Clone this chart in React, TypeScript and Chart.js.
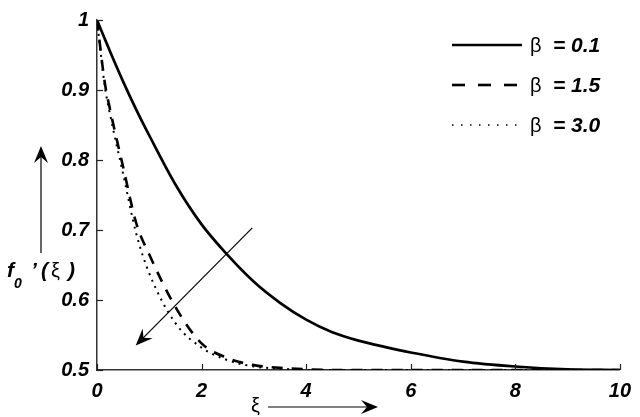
import React, { useEffect, useRef } from "react";
import { Chart, registerables } from "chart.js";

Chart.register(...registerables);

const xi = [0, 0.15, 0.25, 0.5, 0.75, 1, 1.5, 2, 2.5, 3, 3.5, 4, 4.5, 5, 5.5, 6, 7, 8, 9, 10];
const beta01 = [1.0, 0.973, 0.955, 0.912, 0.872, 0.835, 0.765, 0.708, 0.664, 0.626, 0.596, 0.572, 0.554, 0.542, 0.533, 0.525, 0.512, 0.505, 0.501, 0.5];
const beta15 = [1.0, 0.91, 0.872, 0.79, 0.71, 0.665, 0.59, 0.538, 0.517, 0.507, 0.503, 0.501, 0.5, 0.5, 0.5, 0.5, 0.5, 0.5, 0.5, 0.5];
const beta30 = [1.0, 0.905, 0.865, 0.78, 0.695, 0.638, 0.567, 0.532, 0.514, 0.505, 0.502, 0.5, 0.5, 0.5, 0.5, 0.5, 0.5, 0.5, 0.5, 0.5];
const betaLabels = ["0.1", "1.5", "3.0"];
const xTicks = [0, 2, 4, 6, 8, 10];
const yTicks = [0.5, 0.6, 0.7, 0.8, 0.9, 1];
// diagonal arrow in data coordinates: [x, y] start and end
const arrowFrom = [2.97, 0.703];
const arrowTo = [0.74, 0.535];

const FONT = "'Liberation Sans', Arial, Helvetica, sans-serif";

function arrowHead(ctx: CanvasRenderingContext2D, x1: number, y1: number, x2: number, y2: number, len = 17, half = 7, notch = 11) {
  const ang = Math.atan2(y2 - y1, x2 - x1);
  const c = Math.cos(ang), s = Math.sin(ang);
  const pt = (a: number, b: number) => [x2 - a * c + b * -s, y2 - a * s + b * c];
  const p1 = pt(len, half);
  const p2 = pt(notch, 0);
  const p3 = pt(len, -half);
  ctx.beginPath();
  ctx.moveTo(x2, y2);
  ctx.lineTo(p1[0], p1[1]);
  ctx.lineTo(p2[0], p2[1]);
  ctx.lineTo(p3[0], p3[1]);
  ctx.closePath();
  ctx.fill();
}

function arrow(ctx: CanvasRenderingContext2D, x1: number, y1: number, x2: number, y2: number, headLen?: number) {
  const ang = Math.atan2(y2 - y1, x2 - x1);
  ctx.beginPath();
  ctx.moveTo(x1, y1);
  ctx.lineTo(x2 - 10 * Math.cos(ang), y2 - 10 * Math.sin(ang));
  ctx.stroke();
  arrowHead(ctx, x1, y1, x2, y2, headLen);
}

const overlayPlugin = {
  id: "overlay",
  afterDraw(chart: any) {
    const ctx: CanvasRenderingContext2D = chart.ctx;
    const xs = chart.scales.x;
    const ys = chart.scales.y;
    const { left, bottom } = chart.chartArea;
    ctx.save();
    // inward ticks
    ctx.strokeStyle = "#222";
    ctx.lineWidth = 1.2;
    ctx.setLineDash([]);
    for (const t of xTicks) {
      const px = Math.round(xs.getPixelForValue(t)) + 0.5;
      ctx.beginPath();
      ctx.moveTo(px, bottom);
      ctx.lineTo(px, bottom - 6);
      ctx.stroke();
    }
    for (const t of yTicks) {
      const py = Math.round(ys.getPixelForValue(t)) + 0.5;
      ctx.beginPath();
      ctx.moveTo(left, py);
      ctx.lineTo(left + 6, py);
      ctx.stroke();
    }

    // legend
    const styles = chart.data.datasets.map((d: any) => ({ dash: d.legendDash, w: d.legendWidth }));
    for (let i = 0; i < betaLabels.length; i++) {
      const y = 45 + 40 * i;
      ctx.strokeStyle = "#000";
      ctx.lineWidth = styles[i].w;
      ctx.setLineDash(styles[i].dash);
      ctx.beginPath();
      ctx.moveTo(452, y);
      ctx.lineTo(522, y);
      ctx.stroke();
      ctx.setLineDash([]);
      ctx.fillStyle = "#000";
      ctx.textBaseline = "middle";
      ctx.textAlign = "left";
      ctx.font = `20px ${FONT}`;
      ctx.fillText("\u03b2", 530, y + 1);
      ctx.font = `italic bold 21px ${FONT}`;
      ctx.fillText("= " + betaLabels[i], 553, y + 1);
    }

    // diagonal arrow
    ctx.fillStyle = "#000";
    ctx.strokeStyle = "#000";
    ctx.lineWidth = 1.2;
    arrow(
      ctx,
      xs.getPixelForValue(arrowFrom[0]),
      ys.getPixelForValue(arrowFrom[1]),
      xs.getPixelForValue(arrowTo[0]),
      ys.getPixelForValue(arrowTo[1])
    );

    // y axis label and arrow
    arrow(ctx, 41, 253, 41, 146);
    ctx.textBaseline = "alphabetic";
    ctx.font = `italic bold 21px ${FONT}`;
    ctx.fillText("f", 7, 277);
    ctx.font = `italic bold 14px ${FONT}`;
    ctx.fillText("0", 14, 288);
    ctx.font = `italic bold 21px ${FONT}`;
    ctx.fillText("\u2019", 31, 277);
    ctx.fillText("(", 41, 277);
    ctx.font = `20px ${FONT}`;
    ctx.fillText("\u03be", 51, 277);
    ctx.font = `italic bold 21px ${FONT}`;
    ctx.fillText(")", 68, 277);

    // x axis label and arrow
    ctx.font = `20px ${FONT}`;
    ctx.fillText("\u03be", 251, 412);
    arrow(ctx, 268, 407, 378, 407);
    ctx.restore();
  },
};

export default function App() {
  const ref = useRef<HTMLCanvasElement | null>(null);
  useEffect(() => {
    document.body.style.margin = "0";
    const canvas = ref.current;
    if (!canvas) return;
    const mk = (ys: number[]) => xi.map((x, i) => ({ x, y: ys[i] }));
    const tickFont = { family: FONT, size: 20, style: "italic" as const, weight: "bold" as const };
    const chart = new Chart(canvas, {
      type: "line",
      data: {
        datasets: [
          { label: "\u03b2 = 0.1", data: mk(beta01), borderColor: "#000", borderWidth: 2.7, pointRadius: 0, cubicInterpolationMode: "monotone", fill: false, legendDash: [], legendWidth: 2.6 } as any,
          { label: "\u03b2 = 1.5", data: mk(beta15), borderColor: "#000", borderWidth: 2.6, borderDash: [11, 9], pointRadius: 0, cubicInterpolationMode: "monotone", fill: false, legendDash: [13, 13], legendWidth: 2.6 } as any,
          { label: "\u03b2 = 3.0", data: mk(beta30), borderColor: "#000", borderWidth: 2.0, borderDash: [2, 5], pointRadius: 0, cubicInterpolationMode: "monotone", fill: false, legendDash: [1.5, 7.5], legendWidth: 1.5 } as any,
        ],
      },
      options: {
        animation: false,
        responsive: false,
        maintainAspectRatio: false,
        layout: { padding: { top: 18, right: 18, left: 0, bottom: 0 } },
        plugins: { legend: { display: false }, tooltip: { enabled: false } },
        scales: {
          x: {
            type: "linear",
            min: 0,
            max: 10,
            afterBuildTicks: (s: any) => { s.ticks = xTicks.map((v) => ({ value: v })); },
            afterFit: (s: any) => { s.height = 47; },
            ticks: { color: "#000", font: tickFont, padding: 9, callback: (v: any) => String(v), maxRotation: 0 },
            grid: { display: true, drawOnChartArea: false, drawTicks: false },
            border: { display: true, color: "#333", width: 1.5 },
          },
          y: {
            type: "linear",
            min: 0.5,
            max: 1,
            afterBuildTicks: (s: any) => { s.ticks = yTicks.map((v) => ({ value: v })); },
            afterFit: (s: any) => { s.width = 97; },
            ticks: { color: "#000", font: tickFont, padding: 8, callback: (v: any) => String(Math.round(Number(v) * 10) / 10) },
            grid: { display: true, drawOnChartArea: false, drawTicks: false },
            border: { display: true, color: "#333", width: 1.5 },
          },
        },
      },
      plugins: [overlayPlugin],
    });
    return () => chart.destroy();
  }, []);
  return (
    <div style={{ position: "absolute", left: 0, top: 0, width: 640, height: 417, background: "#fff" }}>
      <canvas ref={ref} width={640} height={417} style={{ width: 640, height: 417, display: "block" }} />
    </div>
  );
}
